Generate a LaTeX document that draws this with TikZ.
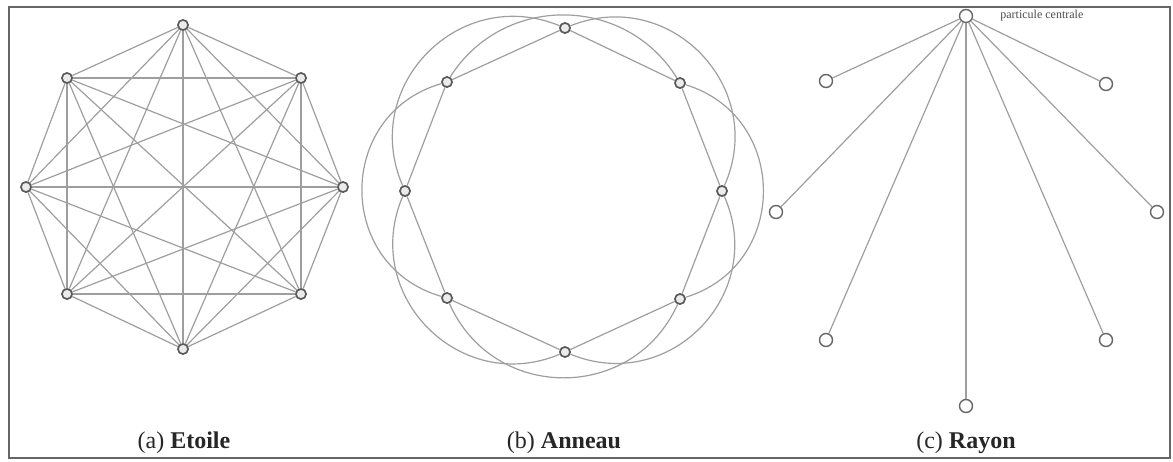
\documentclass[tikz,border=0pt]{standalone}
\usepackage{fontspec}
\setmainfont{Liberation Serif}
\begin{document}
\begin{tikzpicture}[x=0.5pt,y=-0.5pt,
  pt/.style={circle,draw=black!65,fill=black!8,line width=0.75pt,inner sep=0pt,minimum size=5pt},
  rpt/.style={circle,draw=black!60,fill=white,line width=0.7pt,inner sep=0pt,minimum size=6.5pt},
  edge/.style={draw=black!38,line width=0.6pt},
  capt/.style={font=\fontsize{12}{14}\selectfont,anchor=base,text=black!85}]
\useasboundingbox (0,0) rectangle (1173,461);
\draw[black!60,line width=1.3pt] (9,7) rectangle (1170,458);
% (a) Etoile
\coordinate (pa0) at (183,25);
\coordinate (pa1) at (301,78);
\coordinate (pa2) at (343,187);
\coordinate (pa3) at (301,294);
\coordinate (pa4) at (183,349);
\coordinate (pa5) at (67,294);
\coordinate (pa6) at (26,187);
\coordinate (pa7) at (67,78);
\foreach \i in {0,...,7} \node[pt] (a\i) at (pa\i) {};
\foreach \i in {0,...,6}{
  \pgfmathtruncatemacro{\s}{\i+1}
  \foreach \j in {\s,...,7}{
    \draw[edge] (a\i) -- (a\j);
  }
}
\foreach \i in {0,...,7} \node[pt] at (pa\i) {};
\node[capt] (capa) at (184,448) {(a) \textbf{Etoile}};
% (b) Anneau
\coordinate (pb0) at (565,28);
\coordinate (pb1) at (680,83);
\coordinate (pb2) at (722,191);
\coordinate (pb3) at (680,299);
\coordinate (pb4) at (565,352);
\coordinate (pb5) at (447,298);
\coordinate (pb6) at (405,191);
\coordinate (pb7) at (447,82);
\foreach \i in {0,...,7} \node[pt] (b\i) at (pb\i) {};
\foreach \i/\j in {0/1,1/2,2/3,3/4,4/5,5/6,6/7,7/0} \draw[edge] (b\i) -- (b\j);
\foreach \i/\j/\a/\l in {0/2/68/1.24,1/3/73/1.31,2/4/68/1.24,3/5/66/1.21,4/6/68/1.24,5/7/74/1.33,6/0/68/1.24,7/1/58/1.11}
  \draw[edge] (b\i) to[bend left=\a,looseness=\l] (b\j);
\foreach \i in {0,...,7} \node[pt] at (pb\i) {};
\node[capt] (capb) at (564,448) {(b) \textbf{Anneau}};
% (c) Rayon
\node[rpt] (c) at (966,16) {};
\node[rpt] (c1) at (826,81) {};
\node[rpt] (c2) at (1106,84) {};
\node[rpt] (c3) at (776,212) {};
\node[rpt] (c4) at (1157,212) {};
\node[rpt] (c5) at (826,340) {};
\node[rpt] (c6) at (1106,340) {};
\node[rpt] (c7) at (966,406) {};
\foreach \k in {1,...,7} \draw[edge] (c) -- (c\k);
\node[font=\fontsize{6}{7}\selectfont,text=black!70,anchor=west,inner sep=0pt] (lab) at (1000,16) {particule centrale};
\node[capt] (capc) at (966,448) {(c) \textbf{Rayon}};
\end{tikzpicture}
\end{document}
